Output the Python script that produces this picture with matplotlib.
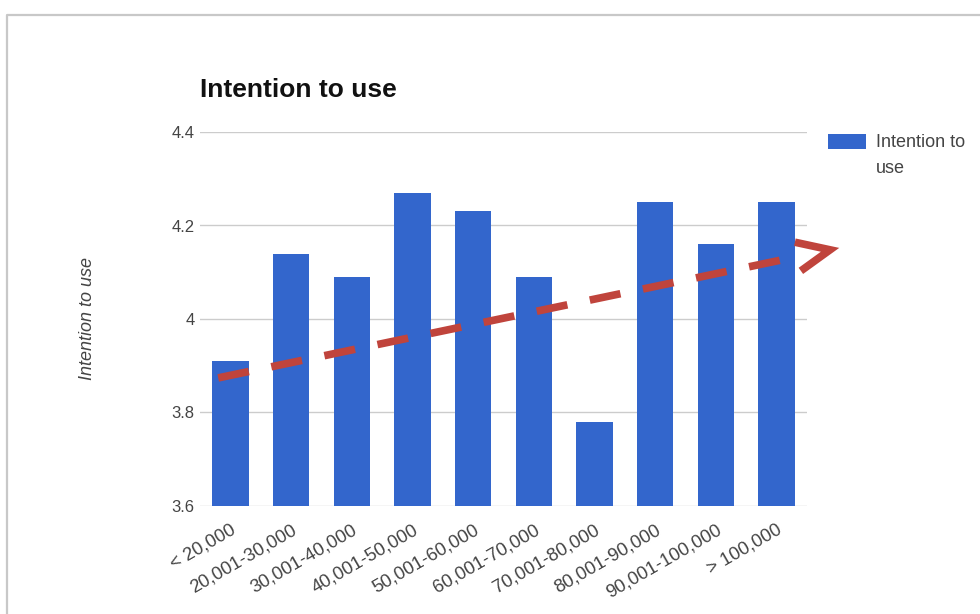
import numpy as np
import matplotlib.pyplot as plt
from matplotlib.lines import Line2D
from matplotlib.patches import Rectangle
from matplotlib.legend_handler import HandlerPatch

plt.rcParams['font.family'] = ['Liberation Sans', 'DejaVu Sans']

# mean intention to use, per income bracket
brackets = ['< 20,000', '20,001-30,000', '30,001-40,000', '40,001-50,000',
            '50,001-60,000', '60,001-70,000', '70,001-80,000', '80,001-90,000',
            '90,001-100,000', '> 100,000']
intention = [3.91, 4.14, 4.09, 4.27, 4.23, 4.09, 3.78, 4.25, 4.16, 4.25]
y_ticks = [3.6, 3.8, 4.0, 4.2, 4.4]
y_tick_labels = ['3.6', '3.8', '4', '4.2', '4.4']

# hand drawn trend arrow (start, tip) in data units
trend_x = [-0.2, 9.88]
trend_y = [3.874, 4.148]

bar_color = '#3366cc'
trend_color = '#c0443c'
text_color = '#444444'


def raised_box(legend, orig_handle, xdescent, ydescent, width, height, fontsize):
    # keep the swatch level with the first line of a two-line label
    return Rectangle((-xdescent, -ydescent + 0.8 * fontsize), width, height)


fig = plt.figure(figsize=(9.8, 6.14), dpi=100)
ax = fig.add_axes([200/980, 1 - 506/614, 607/980, 374/614])

x = np.arange(len(brackets))
bars = ax.bar(x, [v - y_ticks[0] for v in intention], bottom=y_ticks[0],
              width=0.6, color=bar_color, zorder=2)

ax.set_xlim(-0.5, len(brackets) - 0.5)
ax.set_ylim(y_ticks[0], y_ticks[-1])
ax.set_yticks(y_ticks)
ax.set_yticklabels(y_tick_labels, fontsize=12, color=text_color)
ax.set_xticks(x)
ax.set_xticklabels(brackets, fontsize=13.3, color=text_color, rotation=30,
                   ha='right', va='top', rotation_mode='anchor')

ax.tick_params(length=0)
ax.tick_params(axis='y', pad=4)
ax.tick_params(axis='x', pad=11)
for s in ax.spines.values():
    s.set_visible(False)
ax.grid(axis='y', color='#cccccc', lw=1, zorder=0)
ax.set_axisbelow(True)

ax.set_ylabel('Intention to use', fontsize=13, style='italic', color=text_color,
              labelpad=54)
ax.set_title('Intention to use', fontsize=19, fontweight='bold', loc='left',
             pad=25, color='#111111')

swatch = bars.patches[0]
leg = ax.legend([swatch], ['Intention to\nuse'], loc='upper left',
                bbox_to_anchor=(828/980, 1 - 134/614),
                bbox_transform=fig.transFigure, frameon=False, fontsize=13,
                handlelength=2.1, handleheight=0.95, handletextpad=0.55,
                borderaxespad=0, borderpad=0,
                handler_map={swatch: HandlerPatch(patch_func=raised_box)})
for t in leg.get_texts():
    t.set_color(text_color)
    t.set_linespacing(1.7)

# trend arrow: dashed shaft stopping short of an open chevron head
p0 = ax.transData.transform((trend_x[0], trend_y[0]))
p1 = ax.transData.transform((trend_x[1], trend_y[1]))
u = (p1 - p0) / np.hypot(*(p1 - p0))
shaft_end = ax.transData.inverted().transform(p1 - 34 * u)
ax.plot([trend_x[0], shaft_end[0]], [trend_y[0], shaft_end[1]],
        color=trend_color, lw=5.5, dashes=(4.1, 3.0),
        dash_capstyle='butt', clip_on=False, zorder=4)

back = np.arctan2(-u[1], -u[0])
arm = 36
pts = [p1 + arm * np.array([np.cos(a), np.sin(a)])
       for a in (back - np.radians(24), back + np.radians(24))]
fig.add_artist(Line2D([pts[0][0], p1[0], pts[1][0]],
                      [pts[0][1], p1[1], pts[1][1]],
                      color=trend_color, lw=5.5, transform=None,
                      solid_joinstyle='miter', solid_capstyle='butt', zorder=5))

# outer frame of the chart panel
fig.add_artist(Line2D([7/980, 7/980, 1.01], [-0.01, 1 - 15/614, 1 - 15/614],
                      transform=fig.transFigure, color='#c8c8c8', lw=1.6))

fig.savefig('out.png', dpi=100, facecolor='white')
